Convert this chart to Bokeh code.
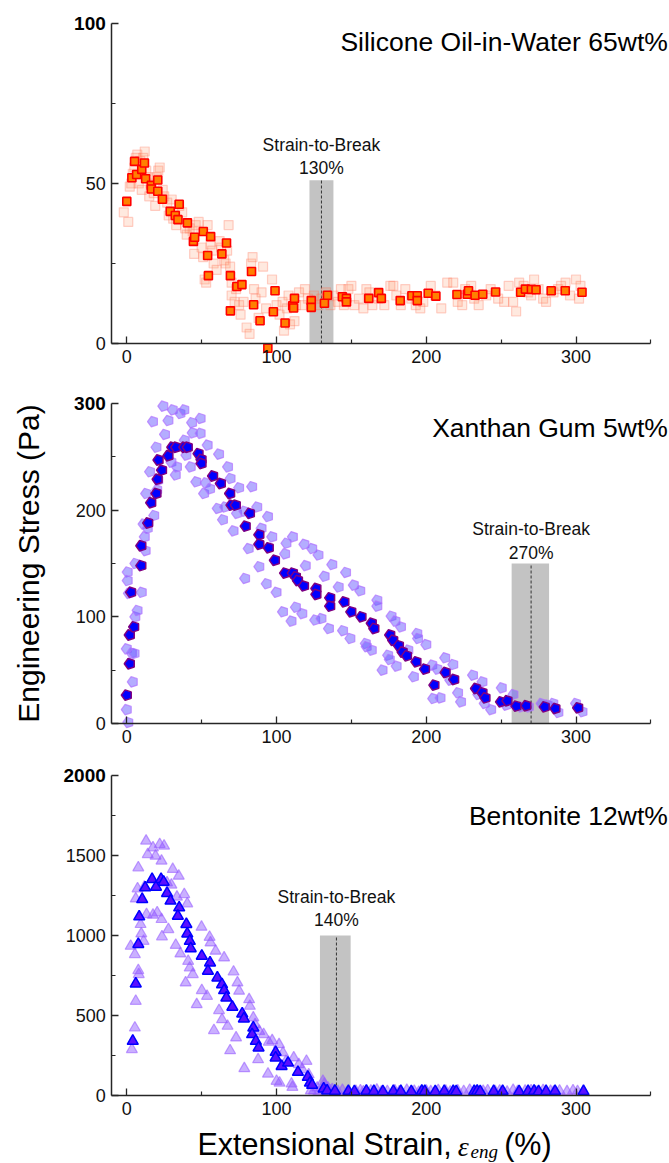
import math
from bokeh.plotting import figure
from bokeh.models import Range1d, FixedTicker, Label
from bokeh.layouts import column
from bokeh.embed import file_html
from bokeh.resources import INLINE

# ---------------- data ----------------
x_ticks = [0, 100, 200, 300]
x_minor = [50, 150, 250, 350]

titles = ["Silicone Oil-in-Water 65wt%", "Xanthan Gum 5wt%", "Bentonite 12wt%"]
break_strain = [130, 270, 140]
band_lo = [122, 257, 129]
band_hi = [138, 282, 149.5]
band_top = [51, 150, 1000]

# Silicone oil-in-water (squares)
si_x = [0, 3.4, 5.2, 6.6, 10, 11.8, 12.6, 16.4, 16.4, 20.7, 20.7, 23.8, 29, 32.4, 34.2, 35, 40.5, 44.5, 45.3, 51.1,
        54, 54.5, 56, 63.5, 66.6, 69.2, 69.2, 73.5, 76.9, 83.3, 84.7, 89, 94.2, 97.9, 99, 105.7, 110.8, 111.4, 112,
        123.2, 123.2, 132, 134, 144, 146.7, 146.7, 161.6, 168.2, 170, 182.6, 190.4, 194, 194, 201.3, 206.4, 220.5,
        227.4, 228.2, 232.6, 237.7, 246.3, 263, 266.2, 270.2, 273.3, 283.4, 292.8, 304]
si_y = [44.4, 51.8, 56.9, 52.8, 54.4, 56.4, 51.5, 49.4, 48.3, 51.1, 47.6, 45.1, 41.3, 40, 38.7, 43.5, 37.7, 31.9, 33.2, 35,
        27.5, 21.2, 33.4, 28, 31.4, 21.2, 10.2, 17.8, 18.4, 22.5, 12.1, 7.1, -1.5, 9.9, 16.5, 6.4, 11.8, 11.1, 14.1,
        13.4, 11.3, 12.6, 15.1, 14.6, 14.1, 13, 14.1, 15.9, 14.1, 13.4, 14.9, 14.9, 13.4, 15.7, 14.8, 15.3,
        15.4, 16.5, 15.1, 15.4, 16.1, 16, 17, 16.9, 16.8, 16.5, 16.5, 16]
si_fx = [-2, 1, 2, 3, 4, 5, 6, 7, 8, 9, 10, 11, 12, 13, 14, 15, 16, 18, 19, 20, 21, 22, 24, 25, 27, 28, 30, 31, 33, 35,
         37, 39, 40, 42, 44, 45, 46, 48, 50, 51, 52, 53, 54, 56, 57, 58, 60, 62, 63, 65, 66, 67, 68, 69, 70, 70, 72, 73,
         75, 76, 78, 80, 82, 83, 84, 85, 86, 88, 90, 91, 93, 97, 100, 102, 104, 105, 107, 108, 109, 112, 113, 115, 117,
         119, 121, 125, 128, 130, 133, 136, 138, 141, 143, 145, 148, 150, 152, 155, 158, 160, 162, 164, 168, 172, 176,
         178, 180, 183, 186, 190, 193, 196, 198, 203, 206, 210, 214, 218, 221, 224, 226, 230, 232, 235, 240, 243, 248,
         252, 255, 258, 260, 262, 265, 268, 270, 272, 275, 278, 280, 285, 288, 290, 293, 296, 300, 302, 303]
si_fy = [41, 38, 49, 50, 53, 55, 58, 59, 50, 57, 48, 58, 60, 54, 52, 46, 50, 47, 43, 52, 54, 55, 48, 46, 44, 40, 45, 39,
         37, 43, 41, 36, 34, 36, 35, 28, 37, 38, 30, 27, 20, 19, 37, 31, 29, 25, 23, 32, 30, 26, 25, 29, 37, 24, 19, 15,
         13, 17, 12, 9, 13, 5, 3, 25, 27, 17, 14, 8, 16, 24, 11, 20, 12, 9, 13, 4, 11, 15, 6, 7, 12, 16, 12, 17, 14, 15,
         12, 14, 16, 12, 15, 13, 17, 12, 17, 18, 12, 14, 11, 17, 16, 12, 14, 12, 18, 18, 15, 12, 17, 14, 12, 11, 13, 18,
         15, 11, 19, 19, 13, 12, 17, 18, 14, 12, 15, 17, 14, 13, 18, 13, 10, 19, 18, 16, 15, 20, 17, 14, 13, 16, 17, 18,
         19, 15, 20, 14, 18]

# Xanthan gum (pentagons)
xg_x = [0, 2, 2, 2.9, 4.9, 9.7, 9.7, 14.3, 16.3, 19.8, 20.6, 21.2, 23.5, 27.8, 30.4, 33, 38.4, 40.7, 47.9, 49.9,
        49.9, 57.6, 62.8, 69, 69.9, 72.8, 79.4, 82.2, 88.5, 88.5, 94.8, 98.9, 105.7, 110.9, 112.9, 114.3, 118.3,
        126.6, 126.6, 135.8, 135.8, 145.3, 149.9, 156.7, 163.6, 165.3, 175.9, 177.9, 181.7, 184.2, 187.1, 193.4,
        199.1, 205.4, 212.9, 218.6, 233.2, 237.5, 239.5, 249.9, 254.2, 260.2, 266.8, 279.1, 286.2, 301.4]
xg_y = [26.6, 56, 83, 123, 90.6, 148, 166.6, 188, 207, 215.6, 229, 247, 237.5, 251, 259, 259, 259, 259, 253, 247.5,
        243.8, 232, 225, 215.6, 204.7, 204.7, 185, 197, 177, 168, 164.7, 153, 141, 141, 137.5, 134, 129, 126.6, 121,
        117.8, 110, 114, 104.7, 100, 94, 89, 83, 78, 73, 67, 63.4, 57.8, 51, 36, 47.8, 41.3, 32.8, 28.8, 24, 20.3,
        21.3, 16.3, 16.6, 15.6, 14, 14.7]
xg_fx = [0, 1, 0.6, 0.6, 1.4, 0, 3.4, 4, 5.2, 5.7, 7.2, 5.7, 10, 11.2, 12, 12.6, 14, 12.9, 15.5, 17.5, 18.3, 19.8, 20.3,
         21, 24.4, 25.5, 27.8, 29.8, 30.7, 32.7, 33.5, 35.8, 38.4, 38.7, 39.8, 42.7, 43.6, 44, 46.4, 49.3, 49.3, 51.6,
         52.7, 54, 55.6, 60.7, 61.6, 64.2, 65.6, 67.6, 69.3, 71.3, 73.6, 75, 78.5, 79, 81.4, 83.7, 87.1, 88.5, 90, 93.4,
         94.3, 97.1, 100, 104.3, 105.7, 106.6, 110, 110.9, 112.9, 117.2, 118.6, 119.5, 123.8, 125.8, 128, 130, 132.1,
         135, 137.2, 141.5, 144.4, 146.4, 149.3, 151.6, 155.9, 159.6, 160.2, 163.6, 167.3, 167.3, 170.8, 174.5, 175.6,
         176.8, 179.4, 180.2, 183.1, 188, 191.7, 194, 194.5, 200, 204, 204.6, 207.4, 209.5, 212.6, 216, 218, 221.2,
         223.2, 231.2, 234.7, 237.5, 239, 243.3, 250.4, 253.3, 258.2, 263.3, 268.5, 277, 281.1, 284.8, 288.2, 300, 304.3]
xg_fy = [13, 1, 142, 134, 122, 70, 66, 39, 65.6, 100, 106, 150, 123, 187, 175, 162, 183, 215.6, 236, 283, 195, 259, 219,
         228, 297.5, 271, 284, 245, 294, 233, 240.6, 290.6, 294, 265.6, 251.6, 240.6, 282, 272.5, 226.6, 286, 272,
         215.6, 225.6, 261, 220, 201.6, 252.5, 191, 203, 240.6, 229.7, 180.6, 197, 221, 199, 136, 164, 222, 203, 147,
         183, 131, 194, 175, 123, 104.7, 159, 169, 96, 175, 109, 103, 168, 148, 164, 97, 158, 98.4, 138, 89, 149, 128,
         87, 141.6, 79.7, 129.7, 124.4, 75, 72, 68.8, 115.6, 110, 50, 64, 60, 100.6, 96, 53.8, 90.6, 68.8, 43.8, 84.4,
         79.7, 74, 54.7, 23.4, 51, 24, 61.6, 40.6, 55.3, 28.8, 20.3, 45.3, 27.2, 39, 18.8, 13, 33.4, 17.2, 27.2, 15.6,
         15.6, 18.8, 17.2, 18.8, 10.3, 18.8, 11]

# Bentonite (triangles)
bt_x = [4, 6, 7.7, 8.3, 10.3, 12.3, 16.9, 19.5, 22.9, 24.6, 26.9, 29.2, 35, 34.1, 39.8, 40.4, 42.1, 42.7, 50.1, 55.6,
        54.2, 60.5, 63.6, 65, 66.5, 70.5, 77.1, 78.2, 84.5, 83.7, 86.2, 88, 99.4, 99.4, 103.4, 107.7, 114.3, 120.9,
        122.3, 123.8, 131.5, 133.8, 139, 148, 152, 160, 165, 171, 178, 183, 190, 197, 199, 206, 212, 218, 220, 232,
        234, 236, 245, 251, 262, 268, 272, 275, 280, 286, 305]
bt_y = [340, 698, 945, 1118, 1226, 1299, 1351, 1303, 1351, 1334, 1264, 1216, 1174, 1122, 1070, 1011, 965, 919, 872, 830,
        778, 736, 694, 657, 611, 553, 511, 480, 423, 382, 340, 298, 271, 236, 183, 204, 146, 115, 79, 65, 42, 30, 28,
        27, 25, 28, 26, 25, 27, 26, 25, 28, 26, 25, 27, 26, 25, 26, 28, 25, 26, 27, 25, 26, 28, 25, 26, 27, 26]
bt_fx = [3.4, 2.6, 5.4, 6, 7.2, 7.7, 7.7, 8, 6, 5.4, 9.2, 9.7, 11.2, 11.7, 12.9, 13.2, 14, 17.5, 17.5, 19.2, 20.3, 22,
         23.2, 23.2, 24.9, 23.5, 26.9, 27.8, 29.8, 30.7, 33.5, 34.7, 32.7, 35.8, 38.4, 39.3, 40.4, 41, 42, 44.1, 46.7,
         49.9, 50.1, 53.6, 55.3, 55.9, 58.2, 59.3, 61.6, 63.6, 65, 67.3, 69, 71.3, 73, 73.9, 75, 78.5, 81.7, 82.2, 84.5,
         85.7, 87.7, 88.5, 91.4, 94.3, 94.8, 97.1, 100, 101.7, 102, 104.3, 106.3, 110, 110.6, 111.5, 114.9, 117.2, 120,
         121.5, 122.9, 127.2, 131, 132, 134.4, 137.2]
bt_fy = [288, 934, 882, 1230, 1293, 1424, 782, 757, 590, 423, 1070, 1011, 965, 1303, 1591, 1132, 1507, 1549, 1128, 1497,
         1143, 1570, 1466, 1101, 1560, 993, 1330, 1038, 1316, 1414, 1241, 1372, 940, 886, 1257, 705, 1199, 840, 798,
         757, 569, 1053, 657, 621, 990, 955, 407, 903, 532, 475, 861, 434, 281, 773, 361, 705, 653, 169, 600, 559, 486,
         444, 225, 402, 382, 135, 334, 344, 90, 319, 79, 267, 215, 73, 52, 236, 194, 163, 215, 131, 30, 48, 90, 73, 48,
         38]
bt_tail_x = [125, 128, 131, 136, 141, 144, 147, 153, 156, 158, 163, 167, 170, 174, 179, 182, 187, 192, 195, 200, 203,
             208, 213, 216, 221, 225, 229, 233, 238, 241, 246, 249, 254, 258, 261, 266, 270, 273, 278, 283, 285, 289,
             294, 298, 301]
bt_tail_y = [30, 22, 35, 28, 25, 33, 20, 27, 31, 24, 29, 35, 22, 26, 30, 24, 33, 27, 21, 29, 25, 32, 28, 23, 30, 26, 34,
             21, 27, 31, 25, 29, 22, 33, 26, 28, 30, 24, 32, 27, 23, 29, 25, 31, 26]

# ---------------- styling / layout ----------------
SANS = "Liberation Sans"
SERIF = "Liberation Serif"
AX = "#262626"
W = 669
AXIS_LEFT_PX = 111.3      # page x of the y axis (strain = -10)
PX_PER_X = 1.4975         # px per % strain
FRAME_H = 320.0           # px between y=0 and the top tick


def make_fig(height, top_px, ytop, yticks, yminor):
    sy = FRAME_H / ytop
    bottom_px = height - top_px - FRAME_H
    x0 = -10 - AXIS_LEFT_PX / PX_PER_X
    x1 = -10 + (W - AXIS_LEFT_PX) / PX_PER_X
    p = figure(width=W, height=height, x_range=Range1d(x0, x1),
               y_range=Range1d(-bottom_px / sy, ytop + top_px / sy),
               output_backend="svg", toolbar_location=None, title=None,
               min_border_left=0, min_border_right=0, min_border_top=0, min_border_bottom=0)
    p.outline_line_color = None
    p.xgrid.visible = False
    p.ygrid.visible = False
    p.background_fill_color = "white"
    p.border_fill_color = "white"
    p.xaxis.ticker = FixedTicker(ticks=x_ticks, minor_ticks=x_minor)
    p.yaxis.ticker = FixedTicker(ticks=yticks, minor_ticks=yminor)
    p.xaxis.fixed_location = 0
    p.yaxis.fixed_location = -10
    p.xaxis.bounds = (-10, 350)
    p.yaxis.bounds = (0, ytop)
    for ax in (p.xaxis[0], p.yaxis[0]):
        ax.axis_line_width = 1.5
        ax.axis_line_color = AX
        ax.major_tick_in = 7
        ax.major_tick_out = 0
        ax.minor_tick_in = 4
        ax.minor_tick_out = 0
        ax.major_tick_line_width = 1.3
        ax.minor_tick_line_width = 1.2
        ax.major_tick_line_color = AX
        ax.minor_tick_line_color = AX
        ax.major_label_text_font = SANS
        ax.major_label_text_font_size = "18px"
        ax.major_label_text_color = "#111111"
        ax.major_label_standoff = 6
    p.yaxis.major_label_overrides = {ytop: ""}
    p.add_layout(Label(x=-10, y=ytop, x_offset=-6, text=str(ytop), text_align="right", text_baseline="middle",
                       text_font=SANS, text_font_size="19px", text_font_style="bold", text_color="#000000"))
    return p


def add_band(p, i, text_y1, text_y2):
    p.quad(left=[band_lo[i]], right=[band_hi[i]], bottom=[0], top=[band_top[i]],
           fill_color="#c3c3c3", line_color=None)
    p.segment(x0=[break_strain[i]], y0=[0], x1=[break_strain[i]], y1=[band_top[i]],
              line_color="#333333", line_width=1, line_dash="3 2")
    p.add_layout(Label(x=break_strain[i], y=text_y1, text="Strain-to-Break", text_align="center",
                       text_baseline="middle", text_font=SANS, text_font_size="17.5px", text_color="#111111"))
    p.add_layout(Label(x=break_strain[i], y=text_y2, text=f"{break_strain[i]}%", text_align="center",
                       text_baseline="middle", text_font=SANS, text_font_size="17.5px", text_color="#111111"))


def add_title(p, i, y):
    p.add_layout(Label(x=361.3, y=y, text=titles[i], text_align="right", text_baseline="middle",
                       text_font=SANS, text_font_size="26.5px", text_color="#000000"))


def pent(p, xs, ys, r, **kw):
    try:
        p.ngon(x=xs, y=ys, radius=r, radius_units="screen", n=5, angle=math.pi / 2, **kw)
    except Exception:
        p.scatter(x=xs, y=ys, marker="hex", size=2 * r, **kw)


# ---- panel 1 ----
p1 = make_fig(373, 23, 100, [0, 50, 100], [25, 75])
add_band(p1, 0, 61.9, 55)
p1.scatter(x=si_fx, y=si_fy, marker="square", size=9, fill_color="#ff9060", fill_alpha=0.2,
           line_color="#ff6a50", line_alpha=0.3, line_width=1.2)
p1.scatter(x=si_x, y=si_y, marker="square", size=8, fill_color="#ff8000", line_color="#ff0000", line_width=1.6)
add_title(p1, 0, 94.1)

# ---- panel 2 ----
p2 = make_fig(378, 30, 300, [0, 100, 200, 300], [50, 150, 250])
add_band(p2, 1, 181.9, 160.3)
pent(p2, xg_fx, xg_fy, 5.5, fill_color="#6a5cff", fill_alpha=0.5, line_color="#b070ff", line_alpha=0.7,
     line_width=1.2)
pent(p2, xg_x, xg_y, 5.5, fill_color="#0000ff", line_color="#800080", line_width=1.5)
add_title(p2, 1, 276.6)
p2.add_layout(Label(x=-65.6, y=150, text="Engineering Stress (Pa)", angle=math.pi / 2, text_align="center",
                    text_baseline="middle", text_font=SANS, text_font_size="30px", text_color="#000000"))

# ---- panel 3 ----
p3 = make_fig(411, 24, 2000, [0, 500, 1000, 1500, 2000], [250, 750, 1250, 1750])
add_band(p3, 2, 1239, 1094)
p3.scatter(x=bt_fx + bt_tail_x, y=bt_fy + bt_tail_y, marker="triangle", size=11, fill_color="#8a50ff",
           fill_alpha=0.45, line_color="#9a60ff", line_alpha=0.6, line_width=1.2)
p3.scatter(x=bt_x, y=bt_y, marker="triangle", size=11, fill_color="#5a10ff", line_color="#0000ff", line_width=1.5)
add_title(p3, 2, 1750)
p3.add_layout(Label(x=47.2, y=-300, text="Extensional Strain,", text_align="left", text_baseline="middle",
                    text_font=SANS, text_font_size="30.5px", text_color="#000000"))
p3.add_layout(Label(x=221, y=-318, text="\u03b5", text_align="left", text_baseline="middle",
                    text_font=SERIF, text_font_style="italic", text_font_size="28px", text_color="#000000"))
p3.add_layout(Label(x=229.5, y=-348, text="eng", text_align="left", text_baseline="middle",
                    text_font=SERIF, text_font_style="italic", text_font_size="19px", text_color="#000000"))
p3.add_layout(Label(x=252, y=-300, text="(%)", text_align="left", text_baseline="middle",
                    text_font=SANS, text_font_size="30.5px", text_color="#000000"))

layout = column(p1, p2, p3, spacing=0)
open("out.html", "w").write(file_html(layout, INLINE))
